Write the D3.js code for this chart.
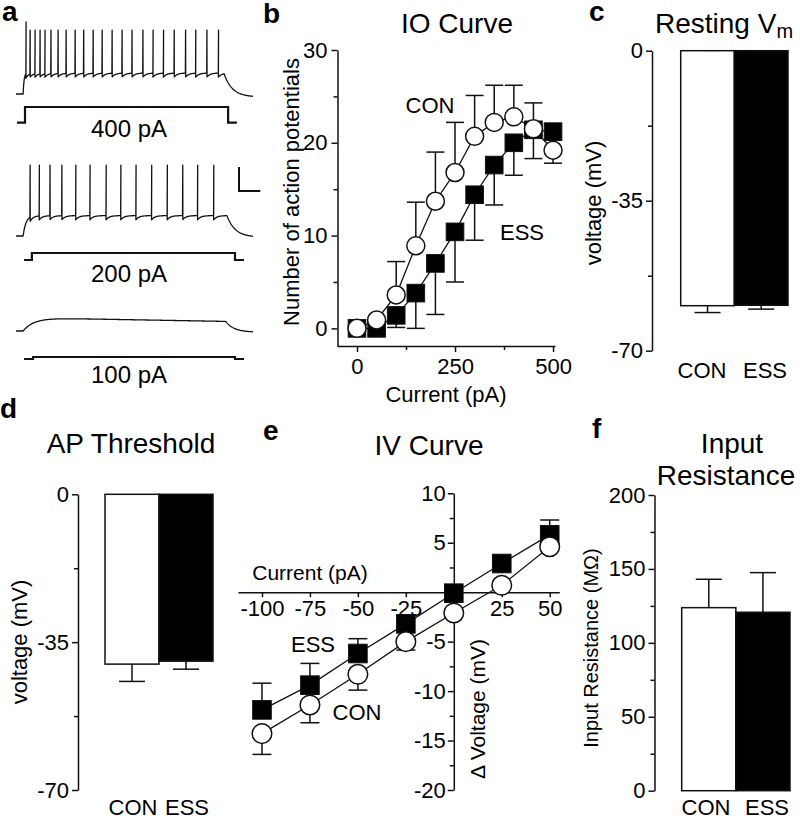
<!DOCTYPE html>
<html><head><meta charset="utf-8">
<script src="https://cdn.jsdelivr.net/npm/d3@7"></script>
<style>
body{margin:0;background:#fff}
svg{display:block}
text{font-family:"Liberation Sans",Arial,Helvetica,sans-serif;fill:#000}
</style>
</head><body>
<svg id="fig" width="800" height="820"></svg>
<script>
// ================= DATA =================
// Panel a: example traces (spike times in ms)
const traceLabels = ["400 pA", "200 pA", "100 pA"];
const spikes400 = [42, 59, 80, 101, 122, 147, 177, 211, 249, 285, 325, 363, 405, 447, 489, 535, 578, 622, 667, 715, 758, 805, 854];
const spikes200 = [59, 98, 143, 193, 252, 312, 380, 442, 506, 572, 638, 703, 766, 834];
const spikes100 = [];
const traceOn = [30, 30, 30];          // ms
const traceOff = [878, 890, 885];      // ms
const traceRest = [-70, -70, -70];     // mV
const tracePlateau = [-52.5, -53, -59];
const traceAhp = [3.5, 3.5, 0];
const tracePeak = [-16.7, -11, 0];
const traceFirstPeak = [-10, -11, 0];
const traceTauOn = [4, 12, 45];
const traceDrift = [0, 0, 3];
const traceEnd = [-72.5, -71, -71];
// current steps (ms)
const stepStart = [4, 34, 34];
const stepOn = [38, 67, 72];
const stepOff = [895, 924, 924];
const stepEnd = [932, 962, 962];
const stepDisplayAmp = [15.7, 7, 2];
// scale bar: 20 mV, 90 ms
const scaleBarMv = 20, scaleBarMs = 90;

// Panel b: IO curve
const ioCurrents = [0, 50, 100, 150, 200, 250, 300, 350, 400, 450, 500];
const ioCON = [0, 0.9, 3.6, 8.9, 13.7, 16.8, 20.7, 22.2, 22.8, 21.5, 19.2];
const ioCONerrUp = [0, 0, 3.6, 4.7, 5.3, 5.4, 4.4, 4.0, 3.4, 2.8, 0];
const ioESS = [0, 0, 1.4, 3.8, 7.0, 10.4, 14.4, 17.6, 20.0, 21.4, 21.2];
const ioESSerrDown = [0, 0, 1.3, 3.8, 5.5, 5.4, 4.9, 4.3, 3.5, 3.1, 3.4];
const ioYTicks = [0, 10, 20, 30], ioYMinor = [5, 15, 25];
const ioXTicks = [0, 250, 500], ioXMinor = [125, 375];

// Bar panels
const groups = ["CON", "ESS"];
const restVm = [-59.5, -59.4], restVmErr = [1.6, 0.9];
const apThresh = [-40.2, -39.5], apThreshErr = [4.1, 1.9];
const inputRes = [123.8, 120.7], inputResErr = [19.2, 26.8];
const vTicks = [0, -35, -70], vMinor = [-17.5, -52.5];
const irTicks = [0, 50, 100, 150, 200], irMinor = [25, 75, 125, 175];

// Panel e: IV curve
const ivCurrents = [-100, -75, -50, -25, 0, 25, 50];
const ivCON = [-14.3, -11.4, -8.3, -5.0, -2.1, 0.7, 4.6];
const ivCONerrDown = [2.1, 1.8, 1.6, 0.85, 0, 0, 0];
const ivESS = [-11.9, -9.4, -6.2, -3.2, -0.1, 2.9, 5.8];
const ivESSerrUp = [2.7, 2.2, 1.5, 0.6, 0, 0, 1.5];
const ivXTicks = [-100, -75, -50, -25, 25, 50];
const ivYTicks = [10, 5, -5, -10, -15, -20];
const ivYMinor = [7.5, 2.5, -2.5, -7.5, -12.5, -17.5];

// ================= DRAWING =================
const svg = d3.select("#fig");
const FS = 22;
const AX = 1.5;

function txt(x, y, s, size, anchor, weight) {
  return svg.append("text").attr("x", x).attr("y", y).text(s)
    .attr("font-size", size).attr("text-anchor", anchor || "middle")
    .attr("font-weight", weight || "normal");
}
function rotText(x, y, s, size) {
  return svg.append("text").attr("transform", `translate(${x},${y}) rotate(-90)`)
    .attr("text-anchor", "middle").attr("font-size", size).text(s);
}
function styleAxis(g) {
  g.selectAll("path,line").attr("stroke", "#111").attr("stroke-width", AX);
  g.selectAll("text").attr("font-size", FS).attr("fill", "#000")
    .attr("font-family", '"Liberation Sans",Arial,Helvetica,sans-serif');
}
function drawAxis(axisFn, scale, tx, ty, major, minor, size, pad, fmt) {
  const g = svg.append("g").attr("transform", `translate(${tx},${ty})`)
    .call(axisFn(scale).tickValues(major).tickSize(size).tickSizeOuter(0).tickPadding(pad)
      .tickFormat(fmt || (d => d)));
  styleAxis(g);
  if (minor && minor.length) {
    const m = svg.append("g").attr("transform", `translate(${tx},${ty})`)
      .call(axisFn(scale).tickValues(minor).tickSize(size - 2).tickFormat(""));
    m.select(".domain").remove();
    styleAxis(m);
  }
  return g;
}

// ---------- Panel letters ----------
txt(2, 21, "a", 28, "start", "bold");
txt(263, 23, "b", 28, "start", "bold");
txt(589, 21, "c", 28, "start", "bold");
txt(0, 418, "d", 28, "start", "bold");
txt(263, 440, "e", 28, "start", "bold");
txt(592, 438, "f", 28, "start", "bold");

// ---------- Panel a ----------
const tScale = d3.scaleLinear().domain([0, 1000]).range([16, 253]);
const vScale = d3.scaleLinear().domain([-70, 0]).range([0, -84]);
const traceRestY = [94, 236, 331];
const stepBaseY = [122.7, 260, 359];
const traceSpikes = [spikes400, spikes200, spikes100];

function baseV(i, t) {
  const on = traceOn[i], off = traceOff[i], rest = traceRest[i];
  const sp = traceSpikes[i];
  function during(tt) {
    let v = rest + (tracePlateau[i] - rest) * (1 - Math.exp(-(tt - on) / traceTauOn[i]));
    v -= traceDrift[i] * (tt - on) / (off - on);
    let last = null;
    for (const s of sp) if (s <= tt) last = s;
    if (last !== null) v -= traceAhp[i] * Math.exp(-(tt - last) / 14);
    return v;
  }
  if (t < on) return rest;
  if (t < off) return during(t);
  const vOff = during(off);
  return traceEnd[i] + (vOff - traceEnd[i]) * Math.exp(-(t - off) / 35);
}

for (let i = 0; i < 3; i++) {
  const pts = [];
  const sp = traceSpikes[i];
  let times = d3.range(0, 1001, 2).concat(sp.map(s => s - 0.3), sp.map(s => s + 1.6));
  times.sort((a, b) => a - b);
  for (const t of times) {
    pts.push([tScale(t), vScale(baseV(i, t))]);
    const k = sp.indexOf(+((t + 0.3).toFixed(4)));
    if (k >= 0) {
      const pk = k === 0 ? traceFirstPeak[i] : tracePeak[i];
      pts.push([tScale(sp[k] + 0.6), vScale(pk)]);
    }
  }
  svg.append("g").attr("transform", `translate(0,${traceRestY[i]})`)
    .append("path").attr("d", d3.line()(pts))
    .attr("fill", "none").attr("stroke", "#111").attr("stroke-width", 1.3)
    .attr("stroke-linejoin", "round");
  // step
  const b = stepBaseY[i], a = stepDisplayAmp[i];
  const sPts = [[tScale(stepStart[i]), b], [tScale(stepOn[i]), b], [tScale(stepOn[i]), b - a],
    [tScale(stepOff[i]), b - a], [tScale(stepOff[i]), b], [tScale(stepEnd[i]), b]];
  svg.append("path").attr("d", d3.line()(sPts)).attr("fill", "none")
    .attr("stroke", "#111").attr("stroke-width", 2.2);
}
txt(129, 137, traceLabels[0], 24);
txt(129, 282, traceLabels[1], 24);
txt(129, 383, traceLabels[2], 24);
// scale bar
{
  const sx = 239, sy = 191;
  const h = vScale(-70) - vScale(-70 + scaleBarMv);
  const w = tScale(scaleBarMs) - tScale(0);
  svg.append("path").attr("d", d3.line()([[sx, sy - h], [sx, sy], [sx + w, sy]]))
    .attr("fill", "none").attr("stroke", "#111").attr("stroke-width", 2);
}

// ---------- Panel b: IO curve ----------
const xb = d3.scaleLinear().domain([-51, 505]).range([337, 555]);
const yb = d3.scaleLinear().domain([-1.9, 30]).range([346, 50]);
drawAxis(d3.axisLeft, yb, 337.5, 0, ioYTicks, ioYMinor, 6, 4);
drawAxis(d3.axisBottom, xb, 0, 346, ioXTicks, ioXMinor, 6, 6);
txt(457, 33, "IO Curve", 28);
txt(446, 402, "Current (pA)", FS);
rotText(299, 192, "Number of action potentials", FS);
txt(430, 113, "CON", FS);
txt(522, 240, "ESS", FS);

function series(xs, ys, errs, dir, xS, yS, shape, size, cap) {
  const g = svg.append("g");
  g.append("path").attr("d", d3.line()(xs.map((x, i) => [xS(x), yS(ys[i])])))
    .attr("fill", "none").attr("stroke", "#111").attr("stroke-width", 1.3);
  xs.forEach((x, i) => {
    if (!errs[i]) return;
    const y1 = yS(ys[i]), y2 = yS(ys[i] + dir * errs[i]);
    g.append("line").attr("x1", xS(x)).attr("x2", xS(x)).attr("y1", y1).attr("y2", y2)
      .attr("stroke", "#111").attr("stroke-width", 1.5);
    g.append("line").attr("x1", xS(x) - cap).attr("x2", xS(x) + cap).attr("y1", y2).attr("y2", y2)
      .attr("stroke", "#111").attr("stroke-width", 1.5);
  });
  xs.forEach((x, i) => {
    if (shape === "circle") {
      g.append("circle").attr("cx", xS(x)).attr("cy", yS(ys[i])).attr("r", size)
        .attr("fill", "#fff").attr("stroke", "#111").attr("stroke-width", 1.5);
    } else {
      g.append("rect").attr("x", xS(x) - size).attr("y", yS(ys[i]) - size)
        .attr("width", 2 * size).attr("height", 2 * size)
        .attr("fill", "#000").attr("stroke", "#111").attr("stroke-width", 1);
    }
  });
}
series(ioCurrents, ioESS, ioESSerrDown, -1, xb, yb, "square", 8.8, 9);
series(ioCurrents, ioCON, ioCONerrUp, 1, xb, yb, "circle", 9, 9);

// ---------- Bar panels ----------
function barPanel(opts) {
  const y = d3.scaleLinear().domain(opts.domain).range(opts.range);
  const xBand = d3.scaleBand().domain(groups).range(opts.barRange).padding(0);
  const xLab = d3.scalePoint().domain(groups).range(opts.labRange);
  drawAxis(d3.axisLeft, y, opts.axisX, 0, opts.ticks, opts.minor, 6, 3);
  const base = y(opts.base);
  groups.forEach((gname, i) => {
    const v = opts.values[i];
    const yv = y(v);
    svg.append("rect").attr("x", xBand(gname)).attr("width", xBand.bandwidth())
      .attr("y", Math.min(base, yv)).attr("height", Math.abs(base - yv))
      .attr("fill", i === 0 ? "#fff" : "#000").attr("stroke", "#111").attr("stroke-width", 1.5);
    const ye = y(v + opts.dir * opts.errs[i]);
    const cx = xBand(gname) + xBand.bandwidth() / 2;
    svg.append("line").attr("x1", cx).attr("x2", cx).attr("y1", yv).attr("y2", ye)
      .attr("stroke", "#111").attr("stroke-width", 1.5);
    svg.append("line").attr("x1", cx - 13).attr("x2", cx + 13).attr("y1", ye).attr("y2", ye)
      .attr("stroke", "#111").attr("stroke-width", 1.5);
    txt(xLab(gname), opts.labY, gname, FS);
  });
}
// c: resting Vm
barPanel({domain: [-70, 0], range: [350.7, 50.7], axisX: 652, ticks: vTicks, minor: vMinor,
  barRange: [680.7, 788], labRange: [702, 765], labY: 378, base: 0, values: restVm, errs: restVmErr, dir: -1});
const tc = svg.append("text").attr("x", 655).attr("y", 33).attr("font-size", 28).attr("text-anchor", "start");
tc.append("tspan").text("Resting V");
tc.append("tspan").attr("font-size", 20).attr("dy", 5).text("m");
rotText(601, 203, "voltage (mV)", FS);

// d: AP threshold
barPanel({domain: [-70, 0], range: [790, 494.3], axisX: 78, ticks: vTicks, minor: vMinor,
  barRange: [105, 213], labRange: [133, 187], labY: 815, base: 0, values: apThresh, errs: apThreshErr, dir: -1});
txt(131, 453, "AP Threshold", 28);
rotText(27, 642, "voltage (mV)", FS);

// f: input resistance
barPanel({domain: [0, 200], range: [790.7, 495], axisX: 654.5, ticks: irTicks, minor: irMinor,
  barRange: [681.7, 790], labRange: [706, 767], labY: 815, base: 0, values: inputRes, errs: inputResErr, dir: 1});
txt(732, 453, "Input", 28);
txt(726, 485, "Resistance", 28);
rotText(598, 648, "Input Resistance (MΩ)", 20);

// ---------- Panel e: IV curve ----------
const xe = d3.scaleLinear().domain([-112.5, 55]).range([238, 559.3]);
const ye = d3.scaleLinear().domain([-20, 10]).range([790, 493.3]);
drawAxis(d3.axisBottom, xe, 0, ye(0), ivXTicks, [], 5, 3);
drawAxis(d3.axisLeft, ye, xe(0), 0, ivYTicks, ivYMinor, 6, 2);
txt(429, 455, "IV Curve", 28);
txt(310, 580, "Current (pA)", 21);
rotText(485, 709, "Δ Voltage (mV)", 21);
txt(313, 652, "ESS", FS);
txt(357, 720, "CON", FS);
series(ivCurrents, ivESS, ivESSerrUp, 1, xe, ye, "square", 9.3, 9.5);
series(ivCurrents, ivCON, ivCONerrDown, -1, xe, ye, "circle", 9.8, 9.5);
</script>
</body></html>
